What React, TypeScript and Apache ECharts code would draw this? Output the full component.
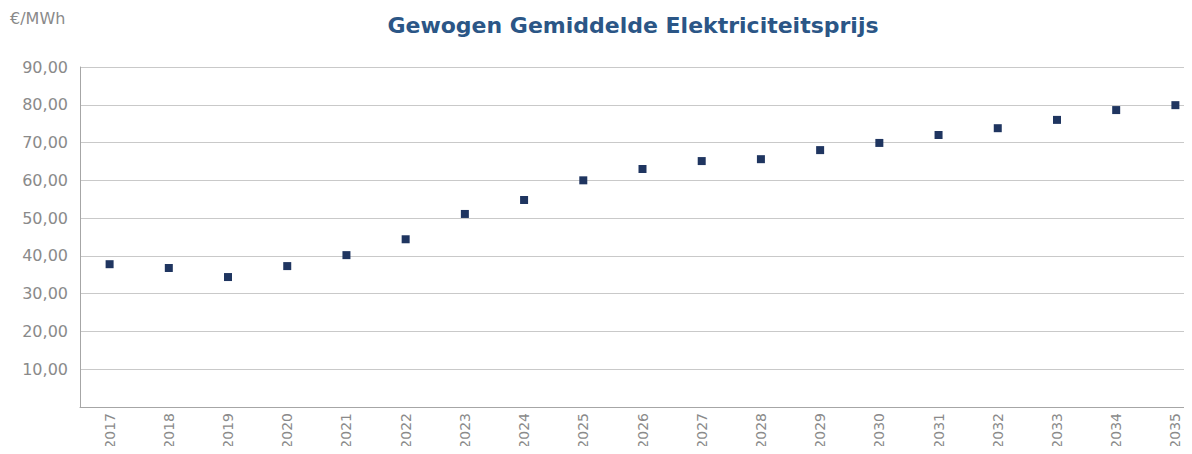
import React, { useEffect, useRef } from "react";
import * as echarts from "echarts";

const years = ["2017","2018","2019","2020","2021","2022","2023","2024","2025","2026","2027","2028","2029","2030","2031","2032","2033","2034","2035"];
const prices = [37.8, 36.8, 34.4, 37.3, 40.2, 44.4, 51.1, 54.8, 60.0, 63.0, 65.1, 65.6, 68.0, 69.9, 72.0, 73.8, 76.0, 78.6, 79.9];
const titleText = "Gewogen Gemiddelde Elektriciteitsprijs";
const unitText = "€/MWh";

export default function App() {
  const ref = useRef<HTMLDivElement>(null);
  useEffect(() => {
    if (!ref.current) return;
    const chart = echarts.init(ref.current, null, { renderer: "svg" });
    const font = "'DejaVu Sans', sans-serif";
    chart.setOption({
      animation: false,
      backgroundColor: "#ffffff",
      title: {
        text: titleText,
        left: 628,
        top: 9,
        textAlign: "center",
        textStyle: { color: "#2b5686", fontSize: 22, fontWeight: "bold", fontFamily: font },
      },
      graphic: [
        {
          type: "text",
          left: 10,
          top: 10,
          style: { text: unitText, fill: "#8a8a8a", fontSize: 16, fontFamily: font },
        },
      ],
      grid: { left: 80, right: 0, top: 67, bottom: 47 },
      xAxis: {
        type: "category",
        data: years,
        axisLine: { show: true, lineStyle: { color: "#a6a6a6", width: 1 } },
        axisTick: { show: false },
        axisLabel: { rotate: 90, color: "#8a8a8a", fontSize: 14, fontFamily: font, margin: 6 },
        splitLine: { show: false },
      },
      yAxis: {
        type: "value",
        min: 0,
        max: 90,
        interval: 10,
        axisLine: { show: true, lineStyle: { color: "#a6a6a6", width: 1 } },
        axisTick: { show: false },
        axisLabel: {
          color: "#8a8a8a",
          fontSize: 16,
          fontFamily: font,
          margin: 12,
          showMinLabel: false,
          formatter: (v: number) => v.toFixed(2).replace(".", ","),
        },
        splitLine: { show: true, lineStyle: { color: "#c9c9c9", width: 1 } },
      },
      series: [
        {
          type: "scatter",
          data: prices,
          symbol: "rect",
          symbolSize: 8,
          itemStyle: { color: "#1f3560", opacity: 1 },
        },
      ],
    });
    return () => chart.dispose();
  }, []);
  return (
    <div style={{ width: 1192, height: 454, margin: "-8px", overflow: "hidden", position: "relative" }}>
      <div ref={ref} style={{ width: 1205, height: 454 }} />
    </div>
  );
}
